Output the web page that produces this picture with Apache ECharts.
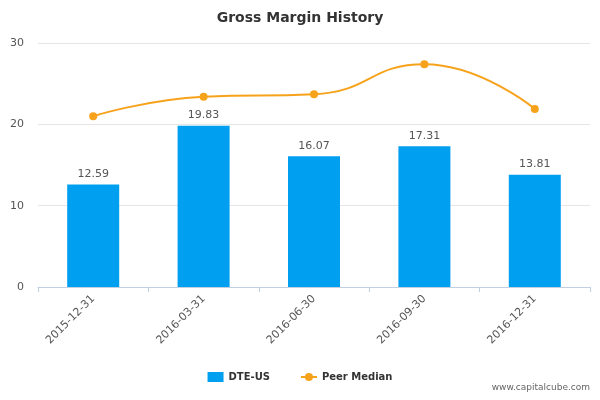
<!DOCTYPE html>
<html>
<head>
<meta charset="utf-8">
<script src="https://cdn.jsdelivr.net/npm/echarts@6/dist/echarts.min.js"></script>
<style>html,body{margin:0;padding:0;background:#fff}#chart{width:600px;height:400px}</style>
</head>
<body>
<div id="chart"></div>
<script>
const categories = ['2015-12-31', '2016-03-31', '2016-06-30', '2016-09-30', '2016-12-31'];
const dteValues = [12.59, 19.83, 16.07, 17.31, 13.81];
const peerMedian = [21.0, 23.4, 23.7, 27.4, 21.9];

const chart = echarts.init(document.getElementById('chart'));
chart.setOption({
    animation: false,
    title: {
        text: 'Gross Margin History',
        left: 'center',
        top: 6,
        textStyle: { fontFamily: 'DejaVu Sans', fontSize: 14, fontWeight: 'bold', color: '#333' }
    },
    legend: {
        bottom: 13,
        left: 'center',
        itemGap: 30,
        itemWidth: 16,
        itemHeight: 10,
        textStyle: { fontFamily: 'DejaVu Sans', fontSize: 10, fontWeight: 'bold', color: '#333' },
        data: [
            { name: 'DTE-US', icon: 'rect', itemStyle: { color: '#019ff0' } },
            { name: 'Peer Median' }
        ]
    },
    graphic: [{
        type: 'text',
        right: 10,
        bottom: 8,
        style: { text: 'www.capitalcube.com', fontFamily: 'DejaVu Sans', fontSize: 9, fill: '#666' }
    }],
    grid: { left: 38, right: 10, top: 43, bottom: 113 },
    xAxis: {
        type: 'category',
        data: categories,
        axisLine: { lineStyle: { color: '#c0d0e0' } },
        axisTick: { show: true, lineStyle: { color: '#c0d0e0' } },
        axisLabel: { rotate: 45, color: '#555', fontFamily: 'DejaVu Sans', fontSize: 11, margin: 10 }
    },
    yAxis: {
        type: 'value',
        min: 0,
        max: 30,
        interval: 10,
        axisLine: { show: false },
        axisTick: { show: false },
        axisLabel: { color: '#555', fontFamily: 'DejaVu Sans', fontSize: 11, margin: 14 },
        splitLine: { lineStyle: { color: '#e6e6e6' } }
    },
    series: [
        {
            name: 'DTE-US',
            type: 'bar',
            data: dteValues,
            barWidth: 52,
            itemStyle: { color: '#019ff0' },
            label: { show: true, position: 'top', color: '#555', fontFamily: 'DejaVu Sans', fontSize: 11, formatter: p => p.value.toFixed(2) }
        },
        {
            name: 'Peer Median',
            type: 'line',
            data: peerMedian,
            smooth: true,
            symbol: 'circle',
            symbolSize: 8,
            lineStyle: { color: '#f7a21b', width: 2 },
            itemStyle: { color: '#f7a21b' }
        }
    ]
});
</script>
</body>
</html>
